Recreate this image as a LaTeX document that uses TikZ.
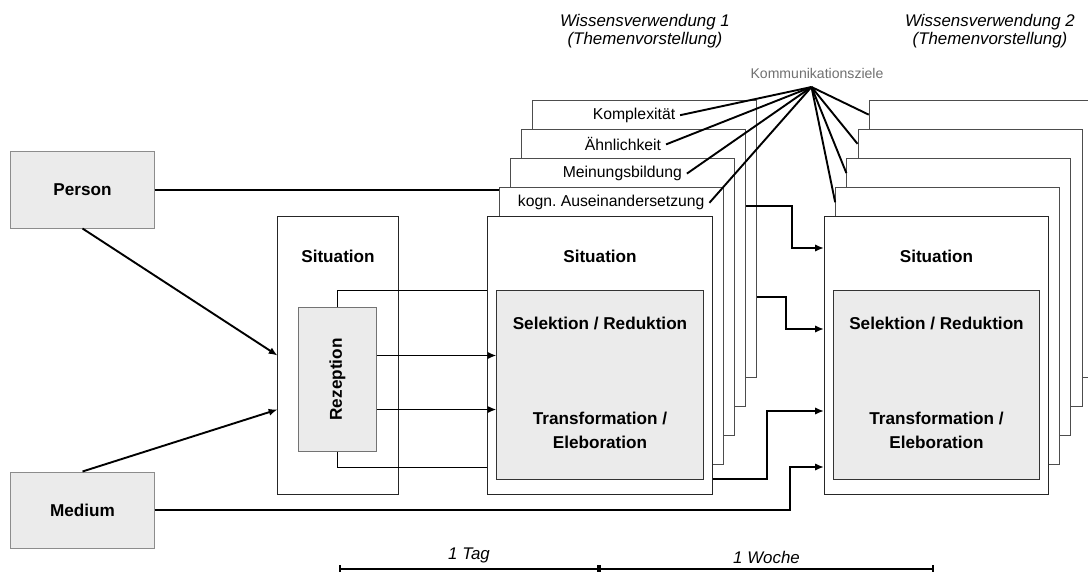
\documentclass[tikz,border=0pt]{standalone}
\usepackage{fontspec}
\setmainfont{Liberation Sans}
\frenchspacing
\usetikzlibrary{positioning,arrows.meta}
\definecolor{boxfill}{HTML}{EBEBEB}
\definecolor{boxline}{HTML}{8C8C8C}
\definecolor{stackline}{HTML}{4D4D4D}
\definecolor{goalgray}{HTML}{707070}
\tikzset{
  conn/.style={-{Latex[length=2.2mm,width=1.8mm]}, line width=1.35pt},
  link/.style={line width=1.35pt},
  greybox/.style={draw=boxline, fill=boxfill, line width=0.7pt, inner sep=0pt},
  whitebox/.style={draw=black!85, fill=white, line width=0.7pt, inner sep=0pt},
  stackbox/.style={draw=stackline, fill=white, line width=0.7pt, inner sep=0pt,
    minimum width=5.6cm, minimum height=6.925cm},
  bold label/.style={font=\fontsize{12.2}{17}\selectfont\bfseries, align=center},
  goal/.style={font=\fontsize{11.2}{13}\selectfont},
  heading/.style={font=\fontsize{12}{13}\selectfont\itshape, align=center},
  scalebar/.style={{Bar[width=2mm]}-{Bar[width=2mm]}, line width=1.35pt},
}
\newcommand{\situationstack}[2]{%
  \begin{scope}[shift={(#1,0)}]
    % Sheets behind the situation
    \foreach \k in {4,3,2,1} {
      \node[stackbox] (#2\k) at ({11.2*\k},{355.5-29.2*\k}) {};
    }
    % Front situation
    \node[stackbox, draw=black!85] (#20) at (0,355.5) {};
    \node[bold label] (#2t) at (0,256.5) {Situation};
    \node[greybox, draw=black!80, minimum width=5.15cm, minimum height=4.7cm] (#2i) at (0,385) {};
    \node[bold label] (#2s) at (0,323) {Selektion / Reduktion};
    \node[bold label] (#2e) at (0,430) {Transformation /\\Eleboration};
  \end{scope}
}

\begin{document}
\begin{tikzpicture}[x=0.025cm, y=-0.025cm]
\useasboundingbox (0,0) rectangle (1088,572);

% Sources
\node[greybox, minimum width=3.575cm, minimum height=1.9cm, bold label] (person) at (82.5,190) {Person};
\node[greybox, minimum width=3.575cm, minimum height=1.9cm, bold label] (medium) at (82.5,510) {Medium};

% Reception situation
\node[whitebox, minimum width=3cm, minimum height=6.925cm] (sit) at (338,355.5) {};
\node[bold label] (sitt) at (338,256.5) {Situation};
\node[greybox, draw=black!55, minimum width=1.925cm, minimum height=3.575cm] (rez) at (337.5,379.5) {};
\node[bold label, rotate=90] (reztext) at (rez) {Rezeption};
\coordinate (in1) at (sit.west);
\coordinate (in2) at ([yshift=-1.35cm]sit.west);

% Knowledge use 1 and 2
\situationstack{600}{a}
\situationstack{936.5}{b}

\node[heading] (use1) at (645,31) {Wissensverwendung 1\\(Themenvorstellung)};
\node[heading] (use2) at (990,31) {Wissensverwendung 2\\(Themenvorstellung)};

% Communication goals
\foreach \k/\dx/\txt in {4/-10.8/Komplexität, 3/-10.6/Ähnlichkeit, 2/0/Meinungsbildung, 1/0/kogn. Auseinandersetzung} {
  \node[goal] (g\k) at ({600+11.2*\k+\dx},{232-29.2*\k}) {\txt};
}
\node[goal, font=\fontsize{10}{11}\selectfont, text=goalgray] (kz) at (817,73) {Kommunikationsziele};
\coordinate (apex) at (811.5,87);
\foreach \k in {1,...,4} {
  \draw[link] (apex) -- (g\k.east);
  \draw[link] (apex) -- ([yshift=-0.375cm]b\k.north west);
}

% Into the reception
\draw[conn] (person.south) -- (in1);
\draw[conn] (medium.north) -- (in2);
\draw[conn] (rez.east |- in1) -- (ai.west |- in1);
\draw[conn] (rez.east |- in2) -- (ai.west |- in2);
\draw[link] (rez.north) |- (a0.west |- ai.north);
\draw[link] (rez.south) |- ([yshift=-0.4cm]rez.south -| a0.west);
\draw[link] (person.east) -- (person.east -| a1.west);

% From use 1 to use 2
\draw[conn] (a3.east |- 0,206) -| (792,248) -- (b0.west |- 0,248);
\draw[conn] (a4.east |- 0,297) -| (786,329) -- (b0.west |- 0,329);
\draw[conn] (a0.east |- 0,479) -| (767,411) -- (b0.west |- 0,411);
\draw[conn] (medium.east) -| (790,467) -- (b0.west |- 0,467);

% Time scale
\coordinate (t0) at (339,569);
\coordinate (t1) at (599,569);
\coordinate (t2) at (934,569);
\draw[scalebar] (t0) -- node[above, heading] (tag) {1 Tag} (t1);
\draw[scalebar] (t1) -- node[above, heading] (woche) {1 Woche} (t2);

\end{tikzpicture}
\end{document}
